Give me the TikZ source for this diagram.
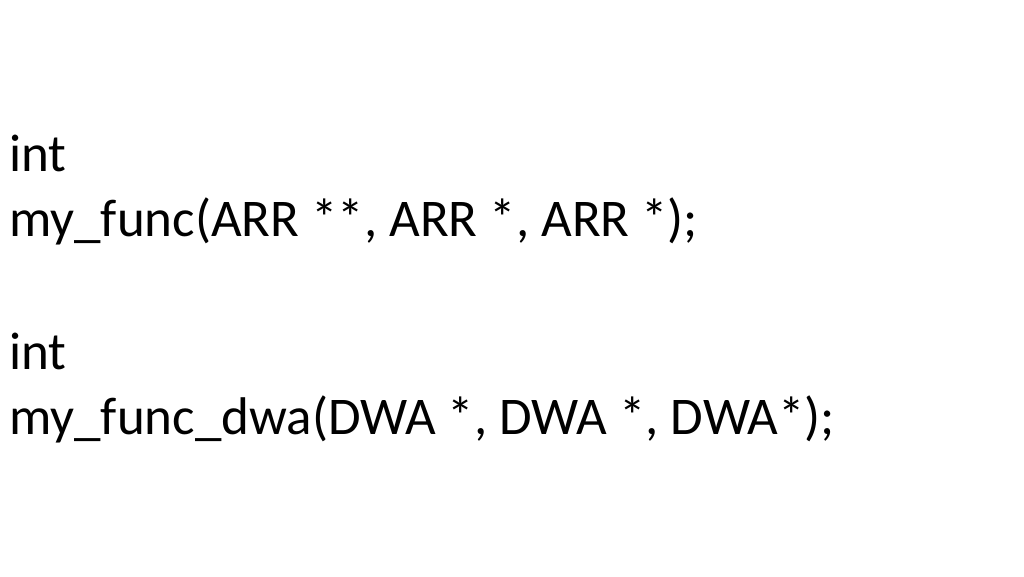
\documentclass[tikz,border=0pt]{standalone}
\usepackage{fontspec}
\setmainfont{Carlito}
\begin{document}
\begin{tikzpicture}[x=1pt,y=1pt,
    codeline/.style={anchor=base west,inner sep=0pt,font=\fontsize{53}{60}\selectfont}]
    \useasboundingbox (0,0) rectangle (1024,576);
    \node[codeline] (ret1) at (9,404) {int};
    \node[codeline] (decl1) at (9,339) {my\_func(ARR **, ARR *, ARR *);};
    \node[codeline] (ret2) at (9,207) {int};
    \node[codeline] (decl2) at (9,142) {my\_func\_dwa(DWA *, DWA *, DWA*);};
\end{tikzpicture}
\end{document}
